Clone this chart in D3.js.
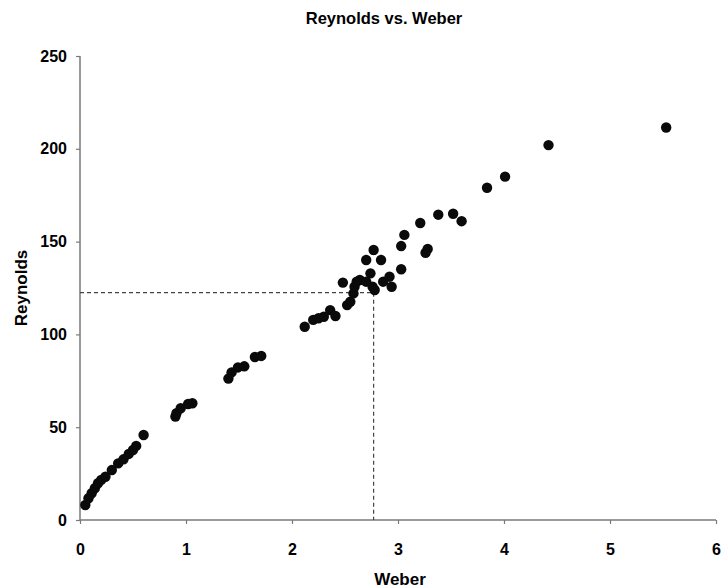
<!DOCTYPE html>
<html>
<head>
<meta charset="utf-8">
<script src="https://cdn.jsdelivr.net/npm/d3@7"></script>
<style>
  body { margin: 0; background: #fff; }
  svg { display: block; }
  text { font-family: "Liberation Sans", Arial, sans-serif; font-weight: bold; fill: #000; }
</style>
</head>
<body>
<svg id="chart" width="725" height="588"></svg>
<script>
// ---- data ----
const weber = [
  0.05, 0.08, 0.11, 0.14, 0.17, 0.20, 0.24, 0.30, 0.36, 0.41, 0.46, 0.50, 0.53, 0.60,
  0.90, 0.91, 0.95, 1.02, 1.06,
  1.40, 1.43, 1.49, 1.55, 1.65, 1.71,
  2.12, 2.20, 2.25, 2.30, 2.36, 2.41, 2.48, 2.52, 2.55, 2.58, 2.59, 2.61, 2.64,
  2.70, 2.77, 2.84, 2.74, 2.76, 2.78, 2.70, 2.86, 2.92, 2.94, 3.03, 3.03, 3.06,
  3.26, 3.28, 3.21, 3.38, 3.52, 3.60, 3.84, 4.01, 4.42, 5.53
];
const reynolds = [
  8.1, 11.7, 14.4, 17.1, 19.8, 21.6, 23.3, 26.9, 30.5, 32.7, 35.6, 37.7, 39.9, 45.8,
  55.7, 57.5, 60.2, 62.5, 62.9,
  76.2, 79.5, 82.2, 82.8, 87.8, 88.4,
  104.1, 107.8, 108.7, 109.5, 113.1, 109.9, 127.9, 115.8, 117.6, 122.1, 125.7, 128.4, 129.3,
  140.1, 145.5, 140.1, 132.9, 125.7, 123.9, 128.4, 128.4, 131.1, 125.7, 135.1, 147.6, 153.6,
  144.0, 146.0, 160.0, 164.5, 165.0, 161.0, 179.0, 185.0, 202.0, 211.5
];
const refPoint = [2.77, 122.5];          // dashed guide lines
const xTicks = [0, 1, 2, 3, 4, 5, 6];
const yTicks = [0, 50, 100, 150, 200, 250];
const title = "Reynolds vs. Weber";
const xTitle = "Weber";
const yTitle = "Reynolds";

// ---- layout ----
const svg = d3.select("#chart");
const mLeft = 80, mRight = 716, mTop = 56, mBottom = 520;
const x = d3.scaleLinear().domain([0, 6]).range([mLeft, mRight]);
const y = d3.scaleLinear().domain([0, 250]).range([mBottom, mTop]);
const axisColor = "#7a7a7a";

// title
svg.append("text").attr("x", 384).attr("y", 24).attr("text-anchor", "middle")
  .style("font-size", "16.5px").text(title);

// axes
const gx = svg.append("g").attr("transform", `translate(0,${mBottom})`)
  .call(d3.axisBottom(x).tickValues(xTicks).tickFormat(d3.format("d")).tickSize(4).tickPadding(19.5));
const gy = svg.append("g").attr("transform", `translate(${mLeft},0)`)
  .call(d3.axisLeft(y).tickValues(yTicks).tickFormat(d3.format("d")).tickSize(4).tickPadding(9));
[gx, gy].forEach(g => {
  g.select(".domain").attr("stroke", axisColor).attr("stroke-width", 1.5);
  g.selectAll(".tick line").attr("stroke", axisColor).attr("stroke-width", 1.2);
  g.selectAll(".tick text").style("font-size", "16px").style("font-family", '"Liberation Sans", Arial, sans-serif')
    .style("font-weight", "bold").attr("fill", "#000");
});
// remove end-caps of domain path (outer ticks)
gx.select(".domain").attr("d", `M${mLeft},0H${mRight}`);
gy.select(".domain").attr("d", `M0,${mTop}V${mBottom}`);

// axis titles
svg.append("text").attr("x", 400).attr("y", 585).attr("text-anchor", "middle")
  .style("font-size", "17px").text(xTitle);
svg.append("text").attr("transform", `translate(27,288) rotate(-90)`).attr("text-anchor", "middle")
  .style("font-size", "17px").text(yTitle);

// dashed guide lines
svg.append("line").attr("x1", x(0)).attr("x2", x(refPoint[0]))
  .attr("y1", y(refPoint[1])).attr("y2", y(refPoint[1]))
  .attr("stroke", "#444").attr("stroke-width", 1.2).attr("stroke-dasharray", "4,3");
svg.append("line").attr("x1", x(refPoint[0])).attr("x2", x(refPoint[0]))
  .attr("y1", y(refPoint[1])).attr("y2", y(0))
  .attr("stroke", "#444").attr("stroke-width", 1.2).attr("stroke-dasharray", "4,3");

// points
const pts = weber.map((w, i) => ({ w, r: reynolds[i] }));
svg.append("g").selectAll("circle").data(pts).join("circle")
  .attr("cx", d => x(d.w)).attr("cy", d => y(d.r)).attr("r", 5.2)
  .attr("fill", "#0a0a0a");
</script>
</body>
</html>
